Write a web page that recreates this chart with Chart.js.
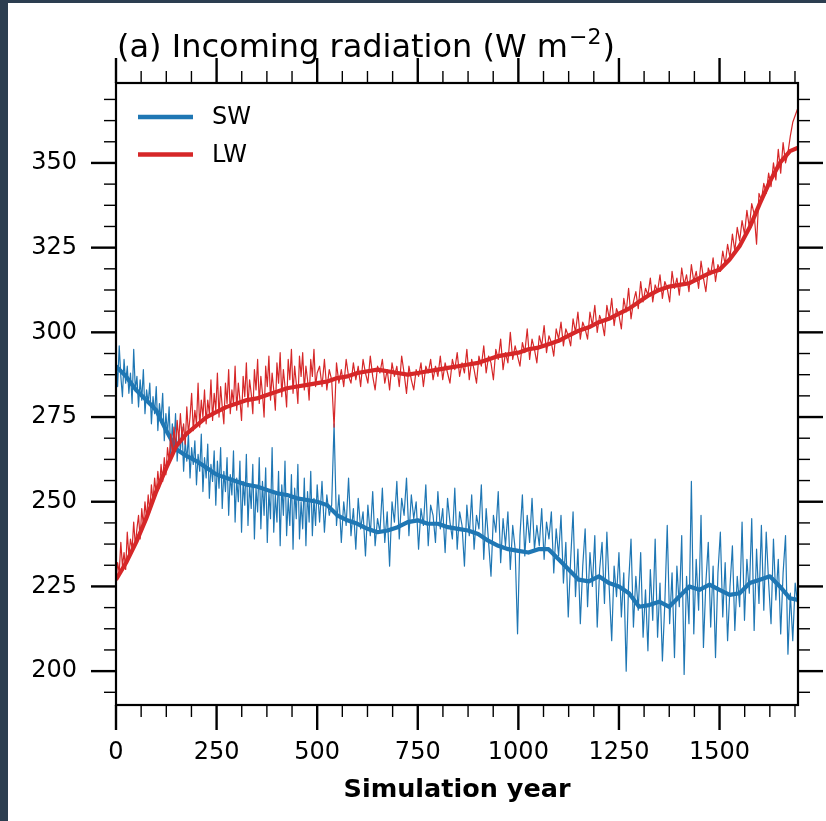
<!DOCTYPE html>
<html>
<head>
<meta charset="utf-8">
<title>Incoming radiation</title>
<script src="https://cdn.jsdelivr.net/npm/chart.js@4.4.1/dist/chart.umd.min.js"></script>
<style>
  html, body { margin: 0; padding: 0; background: #2c3e50; overflow: hidden; }
  #wrap { position: absolute; left: 8px; top: 3px; width: 818px; height: 818px; background: #fff; }
  canvas { display: block; }
</style>
</head>
<body>
<div id="wrap"><canvas id="radiation" width="818" height="818"></canvas></div>
<script>
// axis ticks
const X_TICKS = [0, 250, 500, 750, 1000, 1250, 1500];
const Y_TICKS = [200, 225, 250, 275, 300, 325, 350];
const X_MIN = 0, X_MAX = 1695;
const Y_MIN = 190, Y_MAX = 373.6;
const X_MINOR_STEP = 62.5;
const Y_MINOR_STEP = 6.25;

// annual-ish series: years 0..500 every 4 yr, then 506..1694 every 6 yr
const EARLY_START = 0, EARLY_STEP = 4;
const LATE_START = 506, LATE_STEP = 6;

const LW_EARLY = [
  226, 232, 229, 238, 231, 235, 230, 241, 234, 239,
  236, 244, 237, 242, 246, 239, 248, 243, 250, 245,
  252, 247, 255, 250, 257, 252, 259, 254, 261, 256,
  263, 258, 266, 262, 270, 264, 272, 266, 274, 268,
  276, 269, 273, 267, 278, 270, 275, 282, 271, 277,
  273, 285, 272, 280, 275, 283, 273, 280, 276, 286,
  274, 282, 277, 288, 275, 284, 278, 273, 285, 279,
  289, 276, 283, 279, 290, 277, 285, 280, 274, 287,
  281, 291, 278, 286, 282, 276, 289, 283, 292, 279,
  287, 282, 275, 290, 284, 293, 280, 288, 283, 277,
  291, 285, 294, 281, 289, 284, 278, 292, 286, 295,
  282, 290, 285, 279, 293, 287, 294, 283, 290, 286,
  280, 292, 287, 295, 284, 288
];
const LW_LATE = [
  290, 284, 292, 283, 289, 286, 272, 291, 285, 289,
  284, 292, 287, 285, 291, 286, 290, 284, 292, 288,
  285, 293, 287, 283, 290, 288, 292, 285, 289, 283,
  291, 287, 290, 284, 293, 288, 282, 290, 286, 283,
  289, 287, 291, 284, 290, 288, 292, 286, 290, 287,
  293, 286, 291, 288, 285, 292, 289, 294, 287, 291,
  288, 295, 286, 292, 289, 285, 293, 290, 296, 288,
  293, 291, 286, 295, 292, 298, 289, 294, 291, 300,
  292, 296, 293, 290, 297, 294, 301, 292, 298, 295,
  291, 299, 296, 302, 294, 299, 297, 293, 301, 298,
  303, 296, 301, 299, 296, 304, 300, 306, 298, 303,
  301, 298, 306, 302, 308, 300, 305, 303, 299, 308,
  304, 310, 302, 307, 305, 301, 310, 306, 313, 304,
  309, 312, 307, 315, 309, 313, 311, 316, 309, 314,
  312, 317, 310, 315, 313, 309, 318, 313, 316, 311,
  319, 314, 317, 312, 320, 315, 318, 313, 321, 316,
  312, 319, 317, 322, 315, 320, 318, 324, 320, 326,
  322, 329, 324, 331, 327, 333, 329, 336, 331, 338,
  335, 326, 341, 339, 344, 341, 347, 343, 350, 345,
  354, 347, 356, 350, 353, 358, 362, 364, 366
];
const SW_EARLY = [
  293, 284, 296, 287, 281, 292, 285, 290, 282, 288,
  279, 295, 283, 287, 278, 286, 280, 289, 276, 283,
  279, 285, 273, 281, 276, 284, 271, 279, 274, 282,
  268, 276, 270, 278, 264, 273, 266, 276, 262, 270,
  265, 272, 259, 268, 262, 270, 257, 266, 261, 268,
  255, 264, 259, 270, 253, 263, 257, 267, 251, 261,
  256, 265, 249, 262, 254, 266, 248, 259, 253, 263,
  246, 258, 252, 265, 244, 257, 250, 262, 241, 256,
  249, 264, 243, 255, 248, 261, 239, 254, 247, 263,
  242, 256, 246, 260, 238, 253, 245, 266, 241, 252,
  244, 259, 237, 255, 246, 262, 240, 251, 243, 258,
  236, 254, 245, 261, 239, 250, 242, 257, 237, 253,
  244, 259, 240, 251, 243, 255
];
const SW_LATE = [
  244, 256, 241, 252, 246, 249, 273, 243, 252, 238,
  250, 243, 257, 240, 248, 236, 251, 242, 247, 234,
  249, 240, 253, 237, 245, 241, 254, 238, 247, 231,
  250, 244, 256, 239, 251, 246, 257, 240, 252, 245,
  250, 236, 248, 243, 255, 237, 249, 246, 238, 253,
  242, 248, 235, 251, 244, 239, 254, 236, 247, 243,
  231, 249, 240, 252, 236, 246, 242, 255, 233, 248,
  238, 228, 246, 241, 253, 232, 245, 237, 247, 230,
  243, 236, 211, 240, 252, 234, 246, 238, 251, 236,
  243, 237, 248, 233, 244, 239, 247, 229, 242, 234,
  246, 226, 238, 216, 233, 247, 222, 236, 214, 231,
  242, 219, 235, 225, 240, 213, 230, 238, 220, 241,
  224, 209, 231, 222, 235, 216, 229, 200, 226, 239,
  213, 228, 218, 235, 210, 224, 206, 230, 215, 239,
  210, 226, 203, 220, 243, 214, 229, 204, 231, 219,
  240, 199, 228, 214, 256, 211, 233, 218, 246, 207,
  226, 238, 213, 231, 204, 229, 241, 216, 232, 209,
  225, 237, 212, 228, 219, 244, 215, 233, 223, 245,
  212, 236, 220, 243, 218, 241, 226, 214, 239, 221,
  233, 211, 229, 240, 205, 223, 209, 226, 220
];

// running means
const SMOOTH_YEARS = [
  0, 25, 50, 75, 100, 125, 150, 175, 200, 225, 250, 275, 300, 325, 350, 375, 400, 425, 450, 475,
  500, 525, 550, 575, 600, 625, 650, 675, 700, 725, 750, 775, 800, 825, 850, 875, 900, 925, 950, 975,
  1000, 1025, 1050, 1075, 1100, 1125, 1150, 1175, 1200, 1225, 1250, 1275, 1300, 1325, 1350, 1375,
  1400, 1425, 1450, 1475, 1500, 1525, 1550, 1575, 1600, 1625, 1650, 1675, 1695
];
const SW_SMOOTH = [
  290, 287, 283, 280, 277, 271, 265.5, 263.5, 262, 260, 258, 257, 256, 255, 254.5, 253.5, 252.5, 252, 251, 250.5,
  250, 249, 246, 244.5, 243.5, 242, 241, 241.5, 242.5, 244, 244.5, 243.5, 243.5, 242.5, 242, 241.5, 240.5, 238.5, 237, 236,
  235.5, 235, 236, 236, 233, 230, 227, 226.5, 228, 226, 225, 223, 219, 219.5, 220.5, 219,
  222, 225, 224, 225.5, 224, 222.5, 223, 226, 227, 228, 225, 221.5, 221
];
const LW_SMOOTH = [
  227, 232, 238, 245, 253, 260, 266.5, 270, 272.5, 275, 276.5, 278, 279, 280, 280.5, 281.5, 282.5, 283.5, 284, 284.5,
  285, 285.5, 286.5, 287, 288, 288.5, 289, 288.5, 288, 287.5, 288, 288.5, 289, 289.5, 290, 290.5, 291, 292, 293, 293.5,
  294, 295, 295.5, 296.5, 297.5, 299, 300.5, 301.5, 303, 304, 305.5, 307, 309, 311, 312.5, 313.5,
  314, 314.5, 316, 317.5, 318.5, 321.5, 325.5, 331, 338, 344.5, 350, 353.5, 354.5
];

const SW_COLOR = '#1f77b4';
const LW_COLOR = '#d62728';
const FONT = "'DejaVu Sans', 'Noto Sans', sans-serif";

function rawPoints(early, late) {
  const pts = early.map((v, i) => ({ x: EARLY_START + i * EARLY_STEP, y: v }));
  return pts.concat(late.map((v, i) => ({ x: LATE_START + i * LATE_STEP, y: v })));
}
function smoothPoints(values) {
  return values.map((v, i) => ({ x: SMOOTH_YEARS[i], y: v }));
}

const frameTicks = {
  id: 'frameTicks',
  afterDatasetsDraw(chart) {
    const { ctx, chartArea: a, scales: { x, y } } = chart;
    ctx.save();
    ctx.strokeStyle = '#000';
    const line = (x1, y1, x2, y2, w) => {
      ctx.lineWidth = w;
      ctx.beginPath();
      ctx.moveTo(x1, y1);
      ctx.lineTo(x2, y2);
      ctx.stroke();
    };
    for (let v = X_MIN; v <= X_MAX; v += X_MINOR_STEP) {
      const major = X_TICKS.includes(v);
      const len = major ? 25 : 12;
      const w = major ? 2.4 : 1.4;
      const px = x.getPixelForValue(v);
      line(px, a.bottom, px, a.bottom + len, w);
      line(px, a.top, px, a.top - len, w);
    }
    for (let v = Y_MIN + (Y_MINOR_STEP - (Y_MIN % Y_MINOR_STEP)) % Y_MINOR_STEP; v <= Y_MAX; v += Y_MINOR_STEP) {
      const major = Y_TICKS.includes(v);
      const len = major ? 25 : 12;
      const w = major ? 2.4 : 1.4;
      const py = y.getPixelForValue(v);
      line(a.left, py, a.left - len, py, w);
      line(a.right, py, a.right + len, py, w);
    }
    ctx.lineWidth = 2.2;
    ctx.strokeRect(a.left, a.top, a.right - a.left, a.bottom - a.top);
    ctx.restore();
  }
};

const titleAndLegend = {
  id: 'titleAndLegend',
  afterDraw(chart) {
    const { ctx, chartArea: a } = chart;
    ctx.save();
    ctx.fillStyle = '#000';
    ctx.textBaseline = 'alphabetic';
    ctx.textAlign = 'left';
    // title with superscript unit
    let tx = a.left + 1;
    const ty = 54;
    ctx.font = `32px ${FONT}`;
    const main = '(a) Incoming radiation (W m';
    ctx.fillText(main, tx, ty);
    tx += ctx.measureText(main).width;
    ctx.font = `22px ${FONT}`;
    ctx.fillText('\u22122', tx + 1, ty - 13);
    tx += ctx.measureText('\u22122').width + 2;
    ctx.font = `32px ${FONT}`;
    ctx.fillText(')', tx, ty);

    // legend
    const entries = [['SW', SW_COLOR], ['LW', LW_COLOR]];
    entries.forEach(([label, color], i) => {
      const ly = 114 + i * 37.5;
      ctx.strokeStyle = color;
      ctx.lineWidth = 4.5;
      ctx.beginPath();
      ctx.moveTo(a.left + 22, ly);
      ctx.lineTo(a.left + 77, ly);
      ctx.stroke();
      ctx.font = `24px ${FONT}`;
      ctx.textBaseline = 'middle';
      ctx.fillText(label, a.left + 96, ly + 1);
    });
    ctx.restore();
  }
};

new Chart(document.getElementById('radiation'), {
  type: 'line',
  data: {
    datasets: [
      { label: 'LW', data: smoothPoints(LW_SMOOTH), borderColor: LW_COLOR, borderWidth: 4.2 },
      { label: 'LW annual', data: rawPoints(LW_EARLY, LW_LATE), borderColor: LW_COLOR, borderWidth: 1.2 },
      { label: 'SW', data: smoothPoints(SW_SMOOTH), borderColor: SW_COLOR, borderWidth: 4.2 },
      { label: 'SW annual', data: rawPoints(SW_EARLY, SW_LATE), borderColor: SW_COLOR, borderWidth: 1.2 },
    ],
  },
  options: {
    responsive: false,
    animation: false,
    devicePixelRatio: 1,
    layout: { padding: { top: 80, right: 28, left: 0, bottom: 0 } },
    elements: { point: { radius: 0 }, line: { tension: 0, borderJoinStyle: 'round' } },
    plugins: { legend: { display: false }, tooltip: { enabled: false } },
    scales: {
      x: {
        type: 'linear',
        min: X_MIN,
        max: X_MAX,
        afterBuildTicks: (scale) => { scale.ticks = X_TICKS.map((v) => ({ value: v })); },
        afterFit: (scale) => { scale.height = 116; },
        grid: { display: false, drawTicks: false },
        border: { display: false },
        ticks: {
          autoSkip: false,
          maxRotation: 0,
          padding: 33,
          color: '#000',
          font: { family: FONT, size: 24 },
          callback: (v) => String(v),
        },
        title: {
          display: true,
          text: 'Simulation year',
          color: '#000',
          font: { family: FONT, size: 25.5, weight: 'bold' },
          padding: { top: 0, bottom: 15 },
        },
      },
      y: {
        type: 'linear',
        min: Y_MIN,
        max: Y_MAX,
        afterBuildTicks: (scale) => { scale.ticks = Y_TICKS.map((v) => ({ value: v })); },
        afterFit: (scale) => { scale.width = 108; },
        grid: { display: false, drawTicks: false },
        border: { display: false },
        ticks: {
          autoSkip: false,
          padding: 39,
          color: '#000',
          font: { family: FONT, size: 24 },
          callback: (v) => String(v),
        },
      },
    },
  },
  plugins: [frameTicks, titleAndLegend],
});
</script>
</body>
</html>
